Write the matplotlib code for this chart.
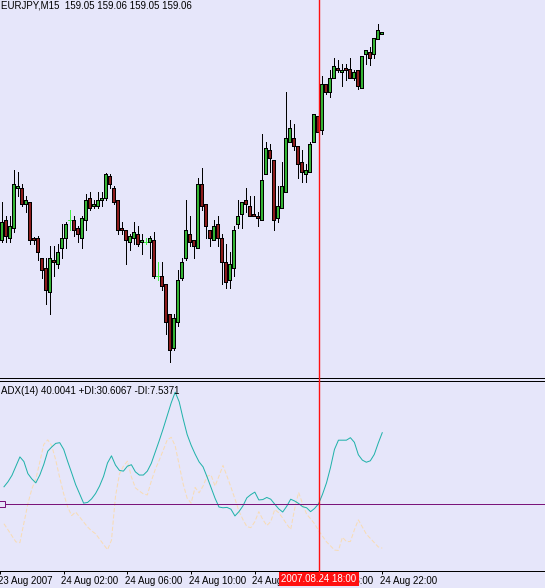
import matplotlib
matplotlib.use('Agg')
import matplotlib.pyplot as plt
import matplotlib.transforms as mtransforms
from matplotlib.patches import Rectangle
from matplotlib.lines import Line2D

plt.rcParams['font.family'] = ['Liberation Sans', 'DejaVu Sans']
plt.rcParams['lines.scale_dashes'] = False

# EURJPY M15, 96 bars (23 Aug 2007 22:15 .. 24 Aug 2007 22:00)
symbol = "EURJPY,M15"
opens = [158.02, 158.12, 158.03, 158.08, 158.28, 158.28, 158.20, 158.21, 158.03, 158.03,
         157.93, 157.88, 157.76, 157.92, 157.90, 157.98, 158.03, 158.12, 158.12, 158.08,
         158.03, 158.12, 158.23, 158.19, 158.19, 158.22, 158.23, 158.34, 158.28, 158.22,
         158.08, 158.07, 158.01, 158.03, 158.05, 158.01, 158.01, 158.01, 158.02, 157.84,
         157.84, 157.80, 157.65, 157.48, 157.61, 157.83, 157.93, 158.05, 158.02, 157.98,
         158.30, 158.20, 158.07, 158.02, 158.10, 158.03, 157.91, 157.82, 157.88, 158.10,
         158.15, 158.22, 158.19, 158.15, 158.14, 158.12, 158.35, 158.47, 158.42, 158.13,
         158.18, 158.26, 158.51, 158.53, 158.49, 158.41, 158.35, 158.36, 158.51, 158.64,
         158.57, 158.80, 158.76, 158.83, 158.88, 158.86, 158.88, 158.875, 158.83, 158.87,
         158.78, 158.95, 158.96, 158.95, 159.025, 159.05]
highs = [158.21, 158.14, 158.14, 158.37, 158.36, 158.30, 158.24, 158.21, 158.035, 158.04,
         157.93, 157.93, 157.99, 157.99, 158.00, 158.10, 158.11, 158.17, 158.14, 158.09,
         158.14, 158.25, 158.26, 158.22, 158.26, 158.26, 158.355, 158.35, 158.29, 158.22,
         158.11, 158.07, 158.05, 158.11, 158.09, 158.05, 158.03, 158.04, 158.06, 157.91,
         157.91, 157.80, 157.65, 157.65, 157.87, 157.93, 158.22, 158.14, 158.02, 158.33,
         158.38, 158.20, 158.07, 158.12, 158.14, 158.05, 158.00, 157.96, 158.09, 158.22,
         158.21, 158.28, 158.24, 158.24, 158.16, 158.55, 158.51, 158.50, 158.42, 158.29,
         158.41, 158.76, 158.62, 158.60, 158.49, 158.47, 158.40, 158.51, 158.65, 158.64,
         158.84, 158.80, 158.87, 158.93, 158.92, 158.90, 158.90, 158.93, 158.87, 158.87,
         158.94, 158.97, 158.985, 159.03, 159.10, 159.06]
lows = [158.01, 158.01, 158.01, 158.06, 158.24, 158.19, 158.16, 158.00, 158.00, 157.92,
        157.83, 157.70, 157.65, 157.84, 157.88, 157.93, 157.98, 158.07, 158.04, 158.01,
        157.98, 158.07, 158.17, 158.18, 158.18, 158.19, 158.22, 158.28, 158.20, 158.05,
        158.05, 157.90, 157.97, 158.00, 157.99, 157.95, 158.00, 157.93, 157.83, 157.82,
        157.77, 157.55, 157.41, 157.47, 157.59, 157.82, 157.92, 157.99, 157.93, 157.98,
        158.17, 158.03, 157.99, 158.02, 157.99, 157.80, 157.78, 157.78, 157.84, 158.08,
        158.08, 158.16, 158.14, 158.14, 158.09, 158.12, 158.35, 158.36, 158.07, 158.11,
        158.18, 158.26, 158.51, 158.47, 158.33, 158.31, 158.31, 158.36, 158.51, 158.56,
        158.55, 158.75, 158.735, 158.83, 158.86, 158.79, 158.82, 158.83, 158.82, 158.775,
        158.78, 158.90, 158.895, 158.93, 159.025, 159.05]
closes = [158.11, 158.04, 158.09, 158.30, 158.29, 158.20, 158.22, 158.02, 158.02, 157.96,
          157.87, 157.77, 157.93, 157.91, 157.96, 158.03, 158.10, 158.12, 158.07, 158.05,
          158.13, 158.22, 158.18, 158.20, 158.22, 158.23, 158.35, 158.30, 158.21, 158.07,
          158.07, 158.02, 158.04, 158.06, 158.00, 158.02, 158.01, 158.03, 157.84, 157.84,
          157.79, 157.61, 157.47, 157.63, 157.82, 157.91, 158.07, 158.01, 157.99, 158.30,
          158.19, 158.09, 158.03, 158.09, 158.03, 157.91, 157.81, 157.90, 158.07, 158.14,
          158.21, 158.20, 158.14, 158.14, 158.13, 158.32, 158.48, 158.43, 158.12, 158.19,
          158.29, 158.53, 158.58, 158.49, 158.40, 158.36, 158.37, 158.50, 158.65, 158.56,
          158.80, 158.76, 158.83, 158.89, 158.87, 158.87, 158.87, 158.83, 158.86, 158.79,
          158.94, 158.97, 158.93, 159.03, 159.07, 159.06]

# ADX(14) and -DI per bar
adx = [24.8, 26.2, 28.0, 30.6, 33.2, 31.9, 28.5, 27.0, 25.9, 28.1,
       31.1, 34.8, 36.0, 37.0, 37.2, 35.3, 31.9, 28.7, 25.4, 22.8,
       20.2, 20.4, 21.4, 22.9, 25.0, 27.7, 31.5, 33.5, 30.9, 29.4,
       29.2, 30.6, 31.0, 29.0, 28.1, 28.1, 29.2, 31.4, 34.6, 37.8,
       41.2, 44.8, 48.4, 51.4, 48.7, 43.9, 39.5, 36.5, 34.0, 31.8,
       30.4, 27.6, 24.6, 21.6, 19.1, 18.9, 19.0, 18.5, 16.6, 17.8,
       19.4, 21.7, 22.6, 23.3, 21.1, 21.2, 21.8, 21.3, 19.9, 18.6,
       17.7, 19.3, 21.3, 20.8, 20.1, 19.2, 18.9, 17.8, 18.7, 20.0,
       22.7, 25.9, 30.2, 35.3, 37.9, 37.9, 37.9, 38.6, 37.3, 33.8,
       32.3, 31.7, 32.1, 33.9, 37.1, 40.0041]
minus_di = [14.4, 12.7, 11.0, 9.3, 9.1, 14.6, 20.0, 24.2, 27.0, 31.8,
            36.7, 38.0, 36.3, 32.3, 27.3, 22.8, 19.1, 16.7, 17.7, 16.3,
            14.9, 13.5, 12.4, 11.6, 10.1, 8.6, 7.1, 9.8, 22.1, 28.4,
            30.6, 32.0, 27.6, 24.5, 23.6, 22.8, 22.5, 26.4, 29.7, 32.3,
            35.1, 38.0, 38.7, 36.3, 30.9, 25.6, 21.6, 20.2, 24.6, 23.1,
            25.0, 27.8, 28.1, 25.0, 27.8, 30.8, 27.8, 24.7, 21.4, 18.0,
            15.6, 13.6, 13.3, 15.0, 17.8, 15.6, 13.9, 15.0, 18.4, 17.5,
            16.0, 14.3, 12.8, 18.6, 23.2, 20.0, 17.1, 15.8, 14.4, 12.5,
            10.9, 9.3, 8.2, 7.0, 6.9, 10.6, 9.4, 9.4, 12.7, 15.5,
            13.5, 11.5, 10.3, 9.1, 7.9, 7.5371]
plus_di_last = 30.6067
adx_level = 20

# time axis
tick_bars = [-1, 15, 31, 47, 63, 79, 95]
tick_labels = ["23 Aug 2007", "24 Aug 02:00", "24 Aug 06:00", "24 Aug 10:00",
               "24 Aug 14:00", "24 Aug 18:00", "24 Aug 22:00"]
vline_bar = 79
vline_label = "2007.08.24 18:00"

bg = '#e6e6fa'
bull = '#34b434'
bear = '#8c1c1c'
doji = '#44ee44'
red = '#ff1010'
px = 0.72  # one pixel in points

W, H = 545, 588
fig = plt.figure(figsize=(W / 100, H / 100), dpi=100, facecolor=bg)
ax = fig.add_axes([0, 1 - 378 / H, 1, 378 / H], facecolor=bg)
ax2 = fig.add_axes([0, 1 - 570.5 / H, 1, 190 / H], facecolor=bg)

xlim = (-0.375, 135.875)

# candles
for i in range(len(opens)):
    o, h, l, c = opens[i], highs[i], lows[i], closes[i]
    if o == c:
        ax.vlines(i, l, h, color=doji, lw=px, antialiased=False, zorder=2)
        ax.hlines(o, i - 0.375, i + 0.375, color=doji, lw=px, antialiased=False, zorder=2)
        continue
    ax.vlines(i, l, h, color='black', lw=px, antialiased=False, zorder=2)
    ax.add_patch(Rectangle((i - 0.33, min(o, c)), 0.66, abs(c - o),
                           facecolor=bull if c > o else bear, edgecolor='black',
                           lw=px, antialiased=False, zorder=3))

ax.set_xlim(*xlim)
ax.set_ylim(157.33, 159.22)
ax.set_xticks([])
ax.set_yticks([])
for s in ['top', 'left', 'right']:
    ax.spines[s].set_visible(False)
ax.spines['bottom'].set_linewidth(px)

# ADX window
bars = list(range(len(adx)))
ax2.plot(bars, minus_di, color='#f8dcb4', lw=px, dashes=(3, 1.5), zorder=2)
ax2.plot(bars, adx, color='#20b2aa', lw=px, zorder=3)
ax2.axhline(adx_level, color='#7a147a', lw=px, antialiased=False, zorder=4)
ax2.plot([xlim[0]], [adx_level], marker='s', ms=4, mfc=bg, mec='#7a147a', mew=px,
         clip_on=False, zorder=6)
ax2.set_xlim(*xlim)
ax2.set_ylim(1.26, 54.68)
ax2.set_yticks([])
for s in ['left', 'right']:
    ax2.spines[s].set_visible(False)
for s in ['top', 'bottom']:
    ax2.spines[s].set_linewidth(px)
ax2.set_xticks(tick_bars)
ax2.set_xticklabels(tick_labels, fontsize=7, ha='left')
ax2.tick_params(axis='x', direction='out', length=2.2, width=px, pad=2)
for lab in ax2.get_xticklabels():
    lab.set_transform(lab.get_transform() + mtransforms.ScaledTranslation(-2.5 / 100, 0, fig.dpi_scale_trans))

# red vertical line over both windows, with its date label on the time axis
trans = mtransforms.blended_transform_factory(ax2.transData, fig.transFigure)
fig.add_artist(Line2D([vline_bar, vline_bar], [1 - 575 / H, 1], transform=trans, color=red,
                      lw=1.0, zorder=5))
ax2.text(vline_bar, 1 - 579 / H, vline_label, transform=trans, ha='center', va='center',
         fontsize=7, color='white', zorder=10,
         bbox=dict(boxstyle='square,pad=0.25', fc=red, ec='none'))

# window captions
fig.text(1 / W, 1 - 6 / H, "%s  %.2f %.2f %.2f %.2f" % (symbol, opens[-1], highs[-1], lows[-1], closes[-1]),
         fontsize=7, va='center', ha='left')
fig.text(1 / W, 1 - 390.7 / H, "ADX(14) %.4f +DI:%.4f -DI:%.4f" % (adx[-1], plus_di_last, minus_di[-1]),
         fontsize=7, va='center', ha='left')

fig.savefig('out.png', dpi=100, facecolor=bg)
